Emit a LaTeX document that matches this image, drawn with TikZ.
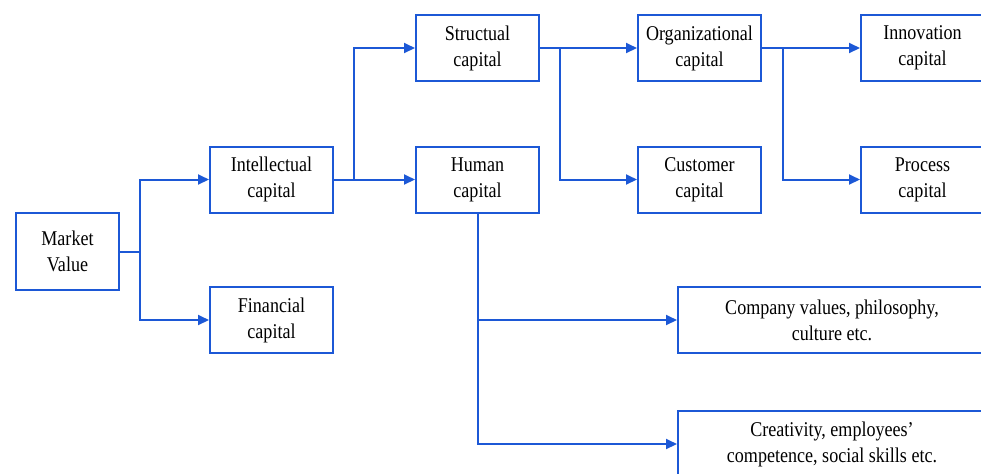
\documentclass[tikz,border=0pt]{standalone}
\usepackage{fontspec}
\setmainfont{Liberation Serif}[FakeStretch=0.86]
\usetikzlibrary{arrows.meta}
\definecolor{capblue}{RGB}{28,88,214}

\begin{document}
\begin{tikzpicture}
        [x=0.5pt, y=-0.5pt,
        box/.style={rectangle, draw=capblue, line width=1pt, minimum width=61.5pt, minimum height=33pt,
                    inner sep=0pt, align=center, font=\fontsize{10.5}{13}\selectfont},
        link/.style={capblue, line width=1pt},
        arrowlink/.style={link, -{Triangle[length=5.5pt, width=5pt]}}]

        \clip (0,0) rectangle (981,473);

        \node[box, minimum width=51.5pt, minimum height=38.5pt] (market) at (67.5,251.5) {Market\\Value};
        \node[box] (intel) at (271.5,179.5) {Intellectual\\capital};
        \node[box] (fin) at (271.5,320) {Financial\\capital};
        \node[box] (struct) at (477.5,48) {Structual\\capital};
        \node[box] (human) at (477.5,179.5) {Human\\capital};
        \node[box] (org) at (699.5,48) {Organizational\\capital};
        \node[box] (cust) at (699.5,179.5) {Customer\\capital};
        \node[box] (innov) at (922.5,48) {Innovation\\capital};
        \node[box] (proc) at (922.5,179.5) {Process\\capital};
        \node[box, minimum width=154pt] (values) at (832,320) {Company values, philosophy,\\culture etc.};
        \node[box, minimum width=154pt] (creat) at (832,444) {Creativity, employees'\\competence, social skills etc.};

        % market value splits
        \draw[arrowlink] (market.east) -- ++(10pt,0) |- (intel.west);
        \draw[arrowlink] (market.east) -- ++(10pt,0) |- (fin.west);

        % intellectual capital
        \draw[arrowlink] (intel.east) -- ++(10pt,0) |- (struct.west);
        \draw[arrowlink] (intel.east) -- (human.west);

        % structual capital
        \draw[arrowlink] (struct.east) -- (org.west);
        \draw[arrowlink] (struct.east) -- ++(10pt,0) |- (cust.west);

        % organizational capital
        \draw[arrowlink] (org.east) -- (innov.west);
        \draw[arrowlink] (org.east) -- ++(10.5pt,0) |- (proc.west);

        % human capital
        \draw[arrowlink] (human.south) |- (values.west);
        \draw[arrowlink] (human.south) |- (creat.west);

\end{tikzpicture}
\end{document}
